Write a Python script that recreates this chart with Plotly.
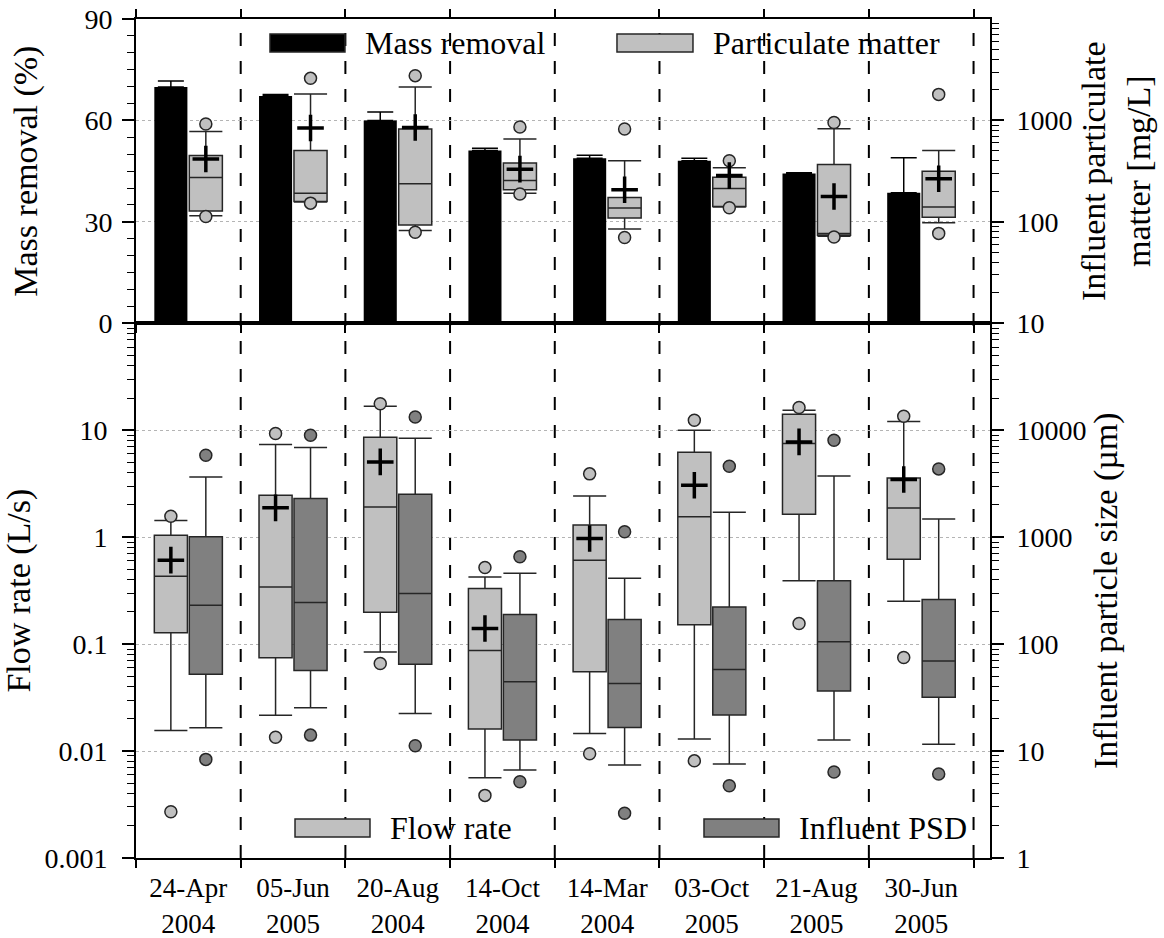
import plotly.graph_objects as go

# ---------------- data ----------------
categories = ["24-Apr<br>2004", "05-Jun<br>2005", "20-Aug<br>2004", "14-Oct<br>2004",
              "14-Mar<br>2004", "03-Oct<br>2005", "21-Aug<br>2005", "30-Jun<br>2005"]

mass_removal = [69.9, 67.2, 60.0, 51.1, 48.8, 48.1, 44.3, 38.6]
mass_removal_err = [1.8, 0.5, 2.5, 0.7, 0.9, 0.7, 0.2, 10.4]

pm_q1 = [128, 159, 93, 207, 109, 142, 74, 111]
pm_median = [274, 192, 237, 256, 137, 213, 77, 140]
pm_q3 = [451, 506, 822, 380, 174, 276, 368, 316]
pm_lo = [115, 157, 82, 192, 85, 140, 72, 98]
pm_hi = [778, 1823, 2136, 655, 400, 341, 828, 506]
pm_mean = [416, 841, 853, 331, 207, 286, 178, 266]
pm_out_lo = [113, 153, 79, 188, 70, 138, 71, 77]
pm_out_hi = [921, 2600, 2763, 861, 822, 400, 955, 1806]

flow_q1 = [0.128, 0.0745, 0.199, 0.0161, 0.0551, 0.152, 1.64, 0.622]
flow_median = [0.432, 0.343, 1.92, 0.0873, 0.61, 1.55, 7.52, 1.87]
flow_q3 = [1.045, 2.47, 8.6, 0.331, 1.30, 6.23, 14.1, 3.58]
flow_lo = [0.0156, 0.0216, 0.0842, 0.00563, 0.01463, 0.01295, 0.391, 0.252]
flow_hi = [1.43, 7.35, 16.8, 0.425, 2.43, 10.0, 15.4, 12.1]
flow_mean = [0.61, 1.88, 5.06, 0.140, 0.972, 3.06, 7.78, 3.46]
flow_out_lo = [0.00271, 0.01344, 0.066, 0.00385, 0.00944, 0.0081, 0.156, 0.0751]
flow_out_hi = [1.57, 9.31, 17.7, 0.521, 3.91, 12.4, 16.3, 13.5]

psd_q1 = [52.4, 56.8, 65, 12.7, 16.6, 21.7, 36.4, 31.8]
psd_median = [231, 245, 298, 44.4, 42.9, 58, 105, 69.4]
psd_q3 = [1007, 2300, 2524, 189.5, 170, 223, 391, 262]
psd_lo = [16.5, 25.4, 22.5, 6.64, 7.4, 7.56, 12.7, 11.6]
psd_hi = [3662, 6890, 8420, 461, 414, 1713, 3740, 1483]
psd_out_lo = [8.36, 14.1, 11.2, 5.17, 2.62, 4.74, 6.37, 6.1]
psd_out_hi = [5840, 8980, 13300, 655, 1122, 4610, 8070, 4350]

# ---------------- styling ----------------
FONT = "Liberation Serif, Times New Roman, serif"
LIGHT = "#c0c0c0"
DARK = "#808080"
EDGE = "#262626"
OFF = 0.167
W = 0.316
n = len(categories)
centers = list(range(n))
left_pos = [i - OFF for i in centers]
right_pos = [i + OFF for i in centers]
boundaries = [i - 0.5 for i in range(n + 1)]
XR = [-0.5, 7.657]

fig = go.Figure()

# top panel: bars
fig.add_trace(go.Bar(
    x=left_pos, y=mass_removal, width=W, marker=dict(color="black", line=dict(width=0)),
    error_y=dict(type="data", array=mass_removal_err, arrayminus=[0] * n, symmetric=False,
                 color="black", thickness=1.5, width=13),
    xaxis="x", yaxis="y", name="Mass removal", showlegend=False))

def add_box(pos, q1, med, q3, lo, hi, fill, xa, ya, name):
    fig.add_trace(go.Box(
        x=pos, q1=q1, median=med, q3=q3, lowerfence=lo, upperfence=hi,
        width=W, whiskerwidth=1, fillcolor=fill, line=dict(color=EDGE, width=1.5),
        xaxis=xa, yaxis=ya, name=name, showlegend=False, hoverinfo="skip"))

def add_points(pos, vals, fill, xa, ya):
    fig.add_trace(go.Scatter(
        x=pos, y=vals, mode="markers", xaxis=xa, yaxis=ya, showlegend=False,
        marker=dict(symbol="circle", size=12, color=fill, line=dict(color=EDGE, width=1.5))))

def add_mean(pos, vals, xa, ya):
    fig.add_trace(go.Scatter(
        x=pos, y=vals, mode="markers", xaxis=xa, yaxis=ya, showlegend=False,
        marker=dict(symbol="cross-thin", size=19, line=dict(color="black", width=3.5))))

add_box(right_pos, pm_q1, pm_median, pm_q3, pm_lo, pm_hi, LIGHT, "x", "y2", "Particulate matter")
add_points(right_pos, pm_out_hi, LIGHT, "x", "y2")
add_points(right_pos, pm_out_lo, LIGHT, "x", "y2")
add_mean(right_pos, pm_mean, "x", "y2")

add_box(left_pos, flow_q1, flow_median, flow_q3, flow_lo, flow_hi, LIGHT, "x2", "y3", "Flow rate")
add_points(left_pos, flow_out_hi, LIGHT, "x2", "y3")
add_points(left_pos, flow_out_lo, LIGHT, "x2", "y3")
add_mean(left_pos, flow_mean, "x2", "y3")

add_box(right_pos, psd_q1, psd_median, psd_q3, psd_lo, psd_hi, DARK, "x2", "y4", "Influent PSD")
add_points(right_pos, psd_out_hi, DARK, "x2", "y4")
add_points(right_pos, psd_out_lo, DARK, "x2", "y4")

def minor_log(lo, hi):
    return [m * 10 ** k for k in range(lo, hi) for m in range(2, 10)]

SPLIT = 0.6373
tickfont = dict(family=FONT, size=28, color="black")
titlefont = dict(family=FONT, size=34, color="black")
common_y = dict(showline=True, linewidth=2, linecolor="black", ticks="outside", ticklen=12,
                tickwidth=1.5, tickcolor="black", tickfont=tickfont, zeroline=False,
                automargin=False)
grid = dict(showgrid=True, gridcolor="#b4b4b4", gridwidth=1, griddash="dot")
minor_style = dict(ticks="outside", ticklen=7, tickwidth=1.2, tickcolor="black", showgrid=False)

fig.update_layout(
    template="none",
    width=1164, height=938, plot_bgcolor="white", paper_bgcolor="white",
    margin=dict(l=136, r=174, t=19, b=80, pad=0), boxmode="overlay", barmode="overlay",
    font=dict(family=FONT, color="black"), showlegend=False,
    xaxis=dict(domain=[0, 1], anchor="y", range=XR, tickvals=boundaries, ticks="outside",
               ticklen=8, tickwidth=1.5, tickcolor="black", showticklabels=False,
               showline=True, linewidth=2, linecolor="black", mirror="ticks",
               showgrid=False, zeroline=False, automargin=False),
    xaxis2=dict(domain=[0, 1], anchor="y3", range=XR, tickvals=centers, ticktext=categories,
                ticks="", tickfont=dict(family=FONT, size=27, color="black"),
                ticklabelstandoff=5,
                minor=dict(tickvals=boundaries, ticks="outside", ticklen=8, tickwidth=1.5,
                           tickcolor="black", showgrid=False),
                showline=True, linewidth=2, linecolor="black", mirror=True,
                showgrid=False, zeroline=False, automargin=False),
    yaxis=dict(domain=[SPLIT, 1], anchor="x", range=[0, 90], tickvals=[0, 30, 60, 90],
               minor=dict(dtick=5, **minor_style), ticklabelstandoff=4,
               title=dict(text="Mass removal (%)", font=titlefont, standoff=36),
               **common_y, **grid),
    yaxis2=dict(overlaying="y", anchor="x", side="right", type="log", range=[1, 4],
                tickvals=[10, 100, 1000], ticktext=["10", "100", "1000"],
                minor=dict(tickvals=minor_log(1, 4), **minor_style), ticklabelstandoff=7,
                showgrid=False,
                title=dict(text="Influent particulate<br>matter [mg/L]", font=titlefont, standoff=10),
                **common_y),
    yaxis3=dict(domain=[0, SPLIT], anchor="x2", type="log", range=[-3, 2],
                tickvals=[0.001, 0.01, 0.1, 1, 10], ticktext=["0.001", "0.01", "0.1", "1", "10"],
                minor=dict(tickvals=minor_log(-3, 2), **minor_style), ticklabelstandoff=9,
                title=dict(text="Flow rate (L/s)", font=titlefont, standoff=5),
                **common_y, **grid),
    yaxis4=dict(overlaying="y3", anchor="x2", side="right", type="log", range=[0, 5],
                tickvals=[1, 10, 100, 1000, 10000], ticktext=["1", "10", "100", "1000", "10000"],
                minor=dict(tickvals=minor_log(0, 5), **minor_style), ticklabelstandoff=7,
                showgrid=False,
                title=dict(text="Influent particle size (µm)", font=titlefont, standoff=6),
                **common_y),
)

# dashed separators between sampling events
for b in boundaries[1:]:
    fig.add_shape(type="line", xref="x2", yref="paper", x0=b, x1=b, y0=0, y1=1,
                  line=dict(color="black", width=2, dash="13px,15px"), layer="below")

# legends (drawn as key rectangles + text)
legend_items = [
    (0.1569, 0.2447, 0.9607, 0.9821, "black", "Mass removal", 0.2658, 0.9714),
    (0.5632, 0.6522, 0.9607, 0.9821, LIGHT, "Particulate matter", 0.6733, 0.9714),
    (0.1862, 0.2740, 0.0250, 0.0465, LIGHT, "Flow rate", 0.2951, 0.0358),
    (0.6651, 0.7529, 0.0250, 0.0465, DARK, "Influent PSD", 0.7740, 0.0358),
]
for x0, x1, y0, y1, col, label, tx, ty in legend_items:
    fig.add_shape(type="rect", xref="paper", yref="paper", x0=x0, x1=x1, y0=y0, y1=y1,
                  fillcolor=col, line=dict(color=EDGE, width=1.5), layer="above")
    fig.add_annotation(xref="paper", yref="paper", x=tx, y=ty, text=label, showarrow=False,
                       xanchor="left", yanchor="middle", font=dict(family=FONT, size=32, color="black"))

fig.write_html("out.html")
